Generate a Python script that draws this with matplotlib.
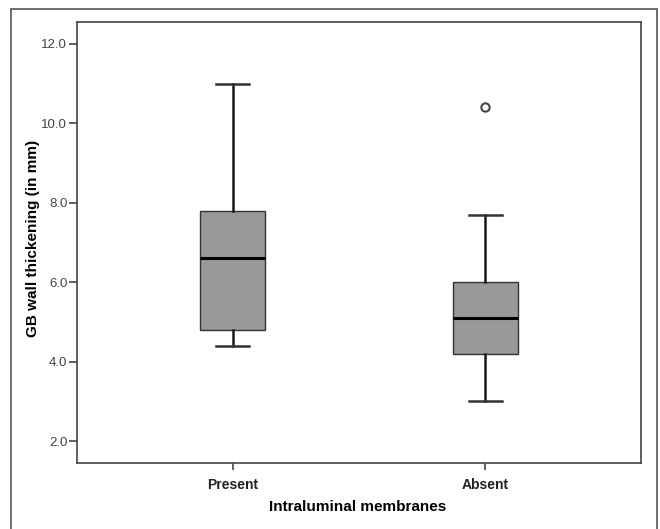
import matplotlib.pyplot as plt
from matplotlib.patches import Rectangle

# dữ liệu (boxplot kiểu SPSS)
groups = ['Present', 'Absent']
q1 = [4.8, 4.2]
medians = [6.6, 5.1]
q3 = [7.8, 6.0]
whisker_low = [4.4, 3.0]
whisker_high = [11.0, 7.7]
outliers = [[], [10.4]]
yticks = [2.0, 4.0, 6.0, 8.0, 10.0, 12.0]

plt.rcParams['font.family'] = ['Liberation Sans', 'DejaVu Sans']

fig = plt.figure(figsize=(6.6, 5.29), dpi=100)
ax = fig.add_axes([77 / 660, 66 / 529, 564 / 660, 441 / 529])

stats = []
for i in range(len(groups)):
    stats.append({'label': groups[i], 'q1': q1[i], 'med': medians[i], 'q3': q3[i],
                  'whislo': whisker_low[i], 'whishi': whisker_high[i],
                  'fliers': outliers[i]})

ax.bxp(stats, positions=[1, 2], widths=0.255, patch_artist=True,
       boxprops=dict(facecolor='#999999', edgecolor='#333333', linewidth=1.0),
       medianprops=dict(color='black', linewidth=2.2),
       whiskerprops=dict(color='#1a1a1a', linewidth=1.8),
       capprops=dict(color='#333333', linewidth=1.8),
       capwidths=0.13,
       flierprops=dict(marker='o', markersize=6, markerfacecolor='white',
                       markeredgecolor='#444444', markeredgewidth=1.5))

ax.set_xlim(0.385, 2.615)
ax.set_ylim(1.45, 12.55)
ax.set_yticks(yticks)
ax.set_yticklabels([f'{v:.1f}' for v in yticks], fontsize=9.5, color='#444444')
ax.set_xticks([1, 2])
ax.set_xticklabels(groups, fontsize=10, fontweight='bold', color='#222222')
ax.tick_params(axis='y', direction='out', length=6, width=1.2, color='#444444', pad=1)
ax.tick_params(axis='x', direction='out', length=5, width=1.2, color='#444444', pad=6)
for s in ax.spines.values():
    s.set_color('#444444')
    s.set_linewidth(1.2)

ax.set_ylabel('GB wall thickening (in mm)', fontsize=11, fontweight='bold')
ax.set_xlabel('Intraluminal membranes', fontsize=11, fontweight='bold')
ax.yaxis.set_label_coords(-0.066, 0.51)
ax.xaxis.set_label_coords(0.498, -0.084)

# khung viền ngoài
fig.patches.append(Rectangle((11 / 660, -0.05), 646 / 660, 1.05 - 9 / 529,
                             transform=fig.transFigure, fill=False,
                             edgecolor='#555555', linewidth=1.2))

fig.savefig('out.png', dpi=100)
